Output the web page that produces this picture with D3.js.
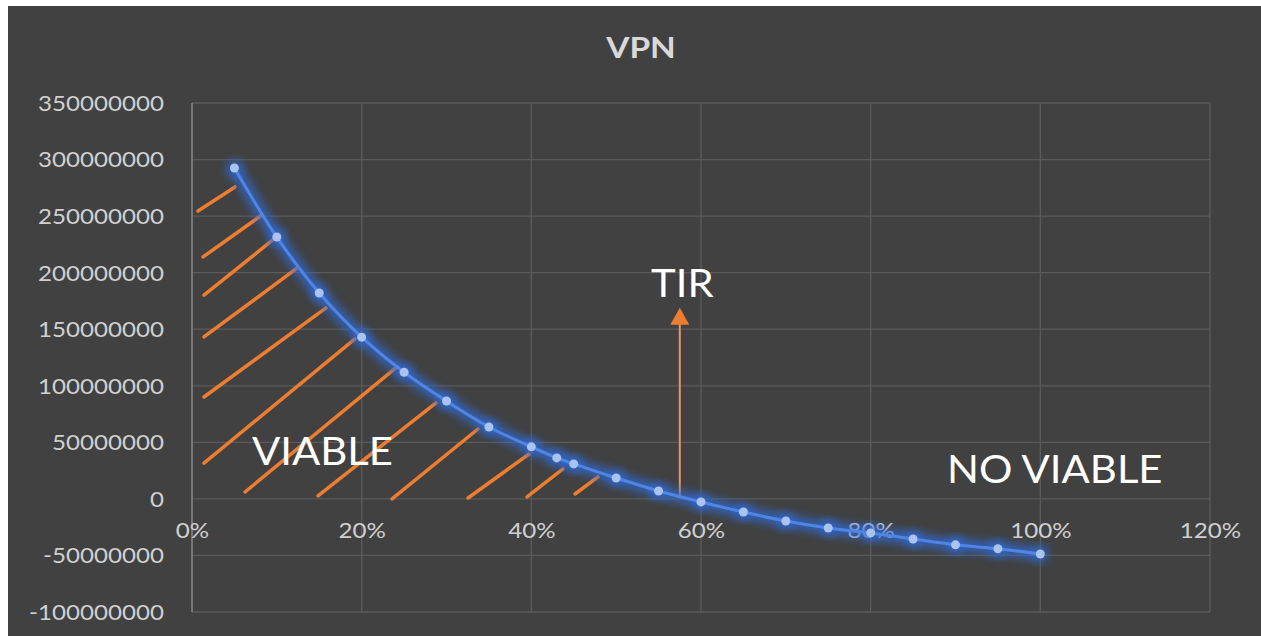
<!DOCTYPE html>
<meta charset="utf-8">
<style>
  body { margin: 0; background: #fff; }
  text { font-family: Lato, "Open Sans", sans-serif; }
</style>
<svg width="1261" height="636"></svg>
<script src="https://cdn.jsdelivr.net/npm/d3@7"></script>
<script>

    // discount rate vs net present value
    var rates = [0.05, 0.10, 0.15, 0.20, 0.25, 0.30, 0.35, 0.40, 0.43, 0.45, 0.50,
                 0.55, 0.60, 0.65, 0.70, 0.75, 0.80, 0.85, 0.90, 0.95, 1.00];
    var vpn = [292.5e6, 231.5e6, 182e6, 143e6, 112e6, 86.5e6, 63.6e6, 46e6, 36.2e6, 30.9e6, 18.5e6,
               7e6, -2.7e6, -11.6e6, -19.5e6, -25.7e6, -30.1e6, -35.5e6, -40.6e6, -44.1e6, -48.7e6];

    var xTicks = [0, 0.2, 0.4, 0.6, 0.8, 1.0, 1.2];
    var yTicks = [-100e6, -50e6, 0, 50e6, 100e6, 150e6, 200e6, 250e6, 300e6, 350e6];

    // hand drawn hatch under the curve: [rate0, value0, rate1, value1]
    var hatch = [
        [0.0071, 254.5e6, 0.0507, 275.8e6],
        [0.0130, 213.9e6, 0.0825, 251.0e6],
        [0.0141, 180.2e6, 0.0967, 229.8e6],
        [0.0141, 143.2e6, 0.1226, 203.3e6],
        [0.0141, 90.1e6, 0.1580, 168.8e6],
        [0.0141, 31.7e6, 0.1921, 141.4e6],
        [0.0625, 6.1e6, 0.2417, 116.7e6],
        [0.1485, 2.6e6, 0.2876, 84.8e6],
        [0.2358, 0, 0.3371, 61.8e6],
        [0.3254, 0.8e6, 0.3973, 39.7e6],
        [0.3949, 1.7e6, 0.4373, 26.5e6],
        [0.4515, 4.3e6, 0.4786, 19.4e6]
    ];
    // TIR arrow: rate, from value, to value
    var tir = [0.575, 3.4e6, 168.9e6];

    var svg = d3.select("svg"),
        width = +svg.attr("width"),
        height = +svg.attr("height");

    var x = d3.scaleLinear().domain([0, 1.2]).range([192, 1210]);
    var y = d3.scaleLinear().domain([-100e6, 350e6]).range([612, 103]);
    var sx = 1.15; // labels are a bit wider than the font

    svg.append("rect")
        .attr("x", 8).attr("y", 6)
        .attr("width", width - 8).attr("height", height - 6)
        .attr("fill", "#414141");

    var defs = svg.append("defs");
    defs.append("filter").attr("id", "glow")
        .attr("x", "-20%").attr("y", "-20%").attr("width", "140%").attr("height", "140%")
        .append("feGaussianBlur").attr("stdDeviation", 5);

    // grid
    svg.append("g").selectAll("line").data(yTicks).enter().append("line")
        .attr("x1", x(0)).attr("x2", x(1.2))
        .attr("y1", function(d) { return y(d); }).attr("y2", function(d) { return y(d); })
        .attr("stroke", "#5b5b5b").attr("stroke-width", 1.3);
    svg.append("g").selectAll("line").data(xTicks.slice(1)).enter().append("line")
        .attr("x1", function(d) { return x(d); }).attr("x2", function(d) { return x(d); })
        .attr("y1", y(350e6)).attr("y2", y(-100e6))
        .attr("stroke", "#5b5b5b").attr("stroke-width", 1.3);
    svg.append("line")
        .attr("x1", x(0)).attr("x2", x(0)).attr("y1", y(350e6)).attr("y2", y(-100e6))
        .attr("stroke", "#8a8a8a").attr("stroke-width", 1.5);

    // axes (labels only)
    var yAxis = svg.append("g")
        .attr("transform", "translate(" + x(0) + ",0)")
        .call(d3.axisLeft(y).tickValues(yTicks).tickSize(0).tickPadding(0)
            .tickFormat(function(d) { return d3.format("d")(d).replace("\u2212", "-"); }));
    var xAxis = svg.append("g")
        .attr("transform", "translate(0," + y(0) + ")")
        .call(d3.axisBottom(x).tickValues(xTicks).tickSize(0).tickPadding(0).tickFormat(d3.format(".0%")));
    svg.selectAll(".domain").remove();
    yAxis.selectAll("text")
        .attr("x", 0).attr("dy", "0.35em")
        .attr("transform", "translate(-28,0) scale(" + sx + ",1)")
        .attr("fill", "#d0d0d0").style("font-size", "21px");
    xAxis.selectAll("text")
        .attr("y", 0).attr("dy", 0)
        .attr("transform", "translate(0,39) scale(" + sx + ",1)")
        .attr("fill", "#d0d0d0").style("font-size", "21px");

    // title
    svg.append("text")
        .attr("transform", "translate(641,58) scale(" + sx + ",1)")
        .attr("text-anchor", "middle")
        .attr("fill", "#d9d9d9").style("font-size", "29px").style("font-weight", "bold")
        .text("VPN");

    // hatch lines
    svg.append("g").selectAll("line").data(hatch).enter().append("line")
        .attr("x1", function(d) { return x(d[0]); }).attr("y1", function(d) { return y(d[1]); })
        .attr("x2", function(d) { return x(d[2]); }).attr("y2", function(d) { return y(d[3]); })
        .attr("stroke", "#ED7D31").attr("stroke-width", 3.5).attr("stroke-linecap", "round");

    // TIR arrow
    var ax = x(tir[0]), ay = y(tir[2]);
    svg.append("line")
        .attr("x1", ax).attr("x2", ax)
        .attr("y1", y(tir[1])).attr("y2", ay + 14)
        .attr("stroke", "#E9956A").attr("stroke-width", 2);
    svg.append("path")
        .attr("d", "M" + ax + "," + ay + " L" + (ax + 9.5) + "," + (ay + 17) + " L" + (ax - 9.5) + "," + (ay + 17) + " Z")
        .attr("fill", "#ED7D31");

    // curve
    var pts = rates.map(function(r, i) { return [r, vpn[i]]; });
    var line = d3.line()
        .x(function(d) { return x(d[0]); })
        .y(function(d) { return y(d[1]); })
        .curve(d3.curveCatmullRom.alpha(0.5));

    svg.append("path").datum(pts)
        .attr("d", line).attr("fill", "none")
        .attr("stroke", "#2f6de0").attr("stroke-width", 12).attr("opacity", 0.75)
        .attr("filter", "url(#glow)");
    svg.append("g").selectAll("circle").data(pts).enter().append("circle")
        .attr("cx", function(d) { return x(d[0]); }).attr("cy", function(d) { return y(d[1]); })
        .attr("r", 9).attr("fill", "#2f6de0").attr("opacity", 0.6)
        .attr("filter", "url(#glow)");
    svg.append("path").datum(pts)
        .attr("d", line).attr("fill", "none")
        .attr("stroke", "#4f86e6").attr("stroke-width", 3);
    svg.append("g").selectAll("circle").data(pts).enter().append("circle")
        .attr("cx", function(d) { return x(d[0]); }).attr("cy", function(d) { return y(d[1]); })
        .attr("r", 4.5).attr("fill", "#a9c4f0");

    // annotations
    function label(txt, r, v, anchor) {
        svg.append("text")
            .attr("transform", "translate(" + x(r) + "," + y(v) + ") scale(1.1,1)")
            .attr("text-anchor", anchor)
            .attr("fill", "#ffffff").style("font-size", "38px")
            .text(txt);
    }
    label("TIR", 0.578, 178.5e6, "middle");
    label("VIABLE", 0.0707, 30e6, "start");
    label("NO VIABLE", 0.89, 14e6, "start");
</script>
